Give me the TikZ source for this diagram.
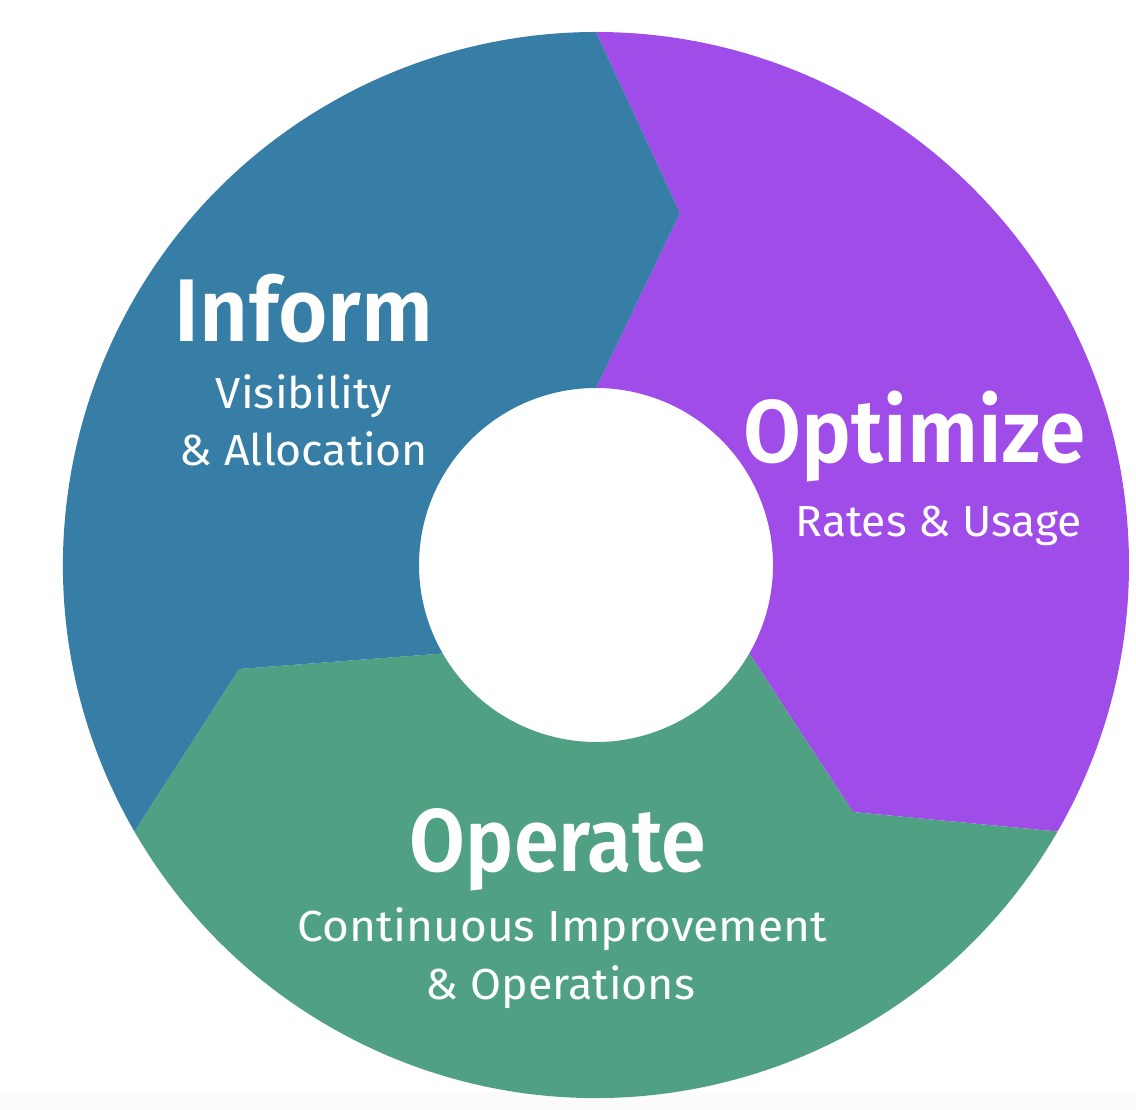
\documentclass[tikz,border=0pt]{standalone}
\usepackage{fontspec}
\setmainfont{Fira Sans}
\IfFontExistsTF{Fira Sans SemiBold}{\newfontfamily\ttlfont{Fira Sans SemiBold}}{\newcommand\ttlfont{\bfseries}}
\definecolor{cinform}{RGB}{55,126,166}
\definecolor{coptimize}{RGB}{160,76,233}
\definecolor{coperate}{RGB}{80,161,132}
\newlength\fitlen
\newcommand\fitw[2]{\settowidth\fitlen{#2}\pgfmathsetmacro\fitsx{#1/\fitlen}\scalebox{\fitsx}[1]{#2}}
\begin{document}
\begin{tikzpicture}[x=1pt,y=1pt,
  ttl/.style={text=white,anchor=base,inner sep=0pt,font=\fontsize{89}{90}\selectfont\ttlfont},
  sub/.style={text=white,anchor=base,inner sep=0pt,font=\fontsize{43.5}{45}\selectfont}]
\useasboundingbox (-596,-545) rectangle (540,565);
\fill[gray!3] (-596,-545) rectangle (540,-527);
% boundary points
\coordinate (b1o) at (90:533);
\coordinate (b1e) at (84,352);
\coordinate (b1i) at (90:177);
\coordinate (b2o) at (-30:533);
\coordinate (b2e) at (257,-247);
\coordinate (b2i) at (-30:177);
\coordinate (b3o) at (210:533);
\coordinate (b3e) at (-357,-104);
\coordinate (b3i) at (210:177);
% Optimize
\fill[coptimize] (b1o) arc[start angle=90,end angle=-30,radius=533] -- (b2e) -- (b2i)
  arc[start angle=-30,end angle=90,radius=177] -- (b1e) -- cycle;
% Operate
\fill[coperate] (b2o) arc[start angle=-30,end angle=-150,radius=533] -- (b3e) -- (b3i)
  arc[start angle=-150,end angle=-30,radius=177] -- (b2e) -- cycle;
% Inform
\fill[cinform] (b3o) arc[start angle=210,end angle=90,radius=533] -- (b1e) -- (b1i)
  arc[start angle=90,end angle=210,radius=177] -- (b3e) -- cycle;
% texts
\node[ttl] (inform) at (-292,223) {\fitw{258}{Inform}};
\node[sub] (vis) at (-292,156) {\fitw{176}{Visibility}};
\node[sub] (alloc) at (-292,99) {\fitw{248}{\& Allocation}};
\node[ttl] (optimize) at (319,102) {\fitw{342}{Optimize}};
\node[sub] (rates) at (343,28) {\fitw{286}{Rates \& Usage}};
\node[ttl] (operate) at (-38,-307) {\fitw{296}{Operate}};
\node[sub] (cont) at (-33.5,-377) {\fitw{529}{Continuous Improvement}};
\node[sub] (ops) at (-35.5,-435) {\fitw{269}{\& Operations}};
\end{tikzpicture}
\end{document}
